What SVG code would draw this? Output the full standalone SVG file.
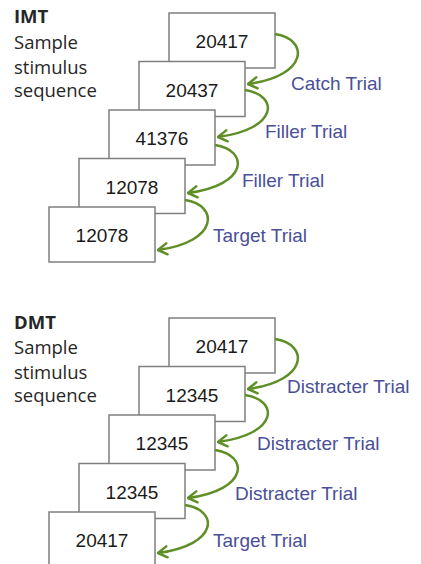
<svg xmlns="http://www.w3.org/2000/svg" width="421" height="564" viewBox="0 0 421 564">
<style>
.box{fill:#fff;stroke:#7f7f7f;stroke-width:1.5}
.num{font-family:"Liberation Sans",Arial,sans-serif;font-size:19px;fill:#1a1a1a;text-anchor:middle}
.lbl{font-family:"Liberation Sans",Arial,sans-serif;font-size:19px;fill:#4a4f98}
.side{font-family:"Open Sans","Liberation Sans",Arial,sans-serif;font-size:18.5px;fill:#262626}
.head{font-weight:bold}
.arr{fill:none;stroke:#5e8f26;stroke-width:2.5;marker-end:url(#ah)}
</style>
<defs>
<marker id="ah" markerWidth="12" markerHeight="14" refX="11" refY="7" orient="auto" markerUnits="userSpaceOnUse" viewBox="0 0 12 14">
<path d="M2 1.5 L11 7 L2 12.5" fill="none" stroke="#5e8f26" stroke-width="2.5" stroke-linejoin="round" stroke-linecap="round"/>
</marker>
</defs>
<rect width="421" height="564" fill="#fff"/>
<g id="imt-title">
<text class="side head" x="14" y="23">IMT</text>
<text class="side" x="14" y="49">Sample</text>
<text class="side" x="14" y="74">stimulus</text>
<text class="side" x="14" y="97">sequence</text>
</g>
<g id="imt-b1"><rect class="box" x="169" y="13" width="106" height="55"/><text class="num" x="222" y="48">20417</text></g>
<g id="imt-b2"><rect class="box" x="139" y="61.5" width="106" height="55"/><text class="num" x="192" y="96.5">20437</text></g>
<g id="imt-b3"><rect class="box" x="109" y="110" width="106" height="55"/><text class="num" x="162" y="145">41376</text></g>
<g id="imt-b4"><rect class="box" x="79" y="158.5" width="106" height="55"/><text class="num" x="132" y="193.5">12078</text></g>
<g id="imt-b5"><rect class="box" x="49" y="207" width="106" height="55"/><text class="num" x="102" y="242">12078</text></g>
<g id="imt-connectors">
<path class="arr" d="M275 34 C309 39 309 76 248 84"/>
<path class="arr" d="M245 90 C279 95 279 129 218 137"/>
<path class="arr" d="M215 145 C249 150 249 185 188 193"/>
<path class="arr" d="M185 200 C219 205 219 242 158 250"/>
</g>
<g id="imt-labels">
<text class="lbl" x="291" y="90">Catch Trial</text>
<text class="lbl" x="265" y="138">Filler Trial</text>
<text class="lbl" x="242" y="187">Filler Trial</text>
<text class="lbl" x="213" y="242">Target Trial</text>
</g>
<g id="dmt-title">
<text class="side head" x="14" y="329">DMT</text>
<text class="side" x="14" y="354">Sample</text>
<text class="side" x="14" y="379">stimulus</text>
<text class="side" x="14" y="402">sequence</text>
</g>
<g id="dmt-b1"><rect class="box" x="169" y="318" width="106" height="55"/><text class="num" x="222" y="353">20417</text></g>
<g id="dmt-b2"><rect class="box" x="139" y="366.5" width="106" height="55"/><text class="num" x="192" y="401.5">12345</text></g>
<g id="dmt-b3"><rect class="box" x="109" y="415" width="106" height="55"/><text class="num" x="162" y="450">12345</text></g>
<g id="dmt-b4"><rect class="box" x="79" y="463.5" width="106" height="55"/><text class="num" x="132" y="498.5">12345</text></g>
<g id="dmt-b5"><rect class="box" x="49" y="512" width="106" height="60"/><text class="num" x="102" y="547">20417</text></g>
<g id="dmt-connectors">
<path class="arr" d="M275 339 C309 344 309 381 248 389"/>
<path class="arr" d="M245 395 C279 400 279 434 218 442"/>
<path class="arr" d="M215 450 C249 455 249 490 188 498"/>
<path class="arr" d="M185 505 C219 510 219 545 158 553"/>
</g>
<g id="dmt-labels">
<text class="lbl" x="287" y="393">Distracter Trial</text>
<text class="lbl" x="257" y="450">Distracter Trial</text>
<text class="lbl" x="235" y="500">Distracter Trial</text>
<text class="lbl" x="213" y="547">Target Trial</text>
</g>
</svg>
